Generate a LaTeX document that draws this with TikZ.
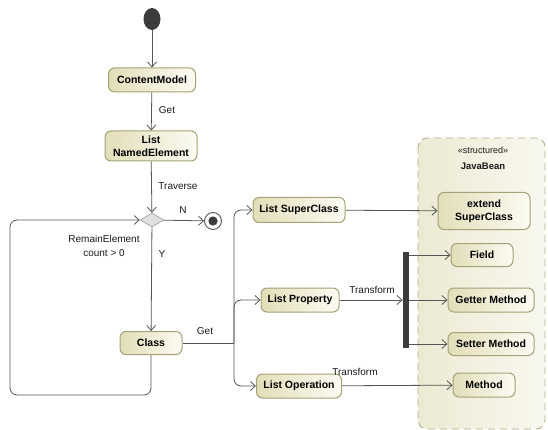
\documentclass[tikz,border=0pt]{standalone}
\usepackage{fontspec}
\setmainfont{Liberation Sans}
\usetikzlibrary{arrows.meta,shapes.geometric}

\definecolor{linegray}{HTML}{555555}
\definecolor{nodeedge}{HTML}{A6A176}
\definecolor{nodetan}{HTML}{E2DEB8}
\definecolor{nodelight}{HTML}{FCFBF3}
\definecolor{parttan}{HTML}{ECEAD3}
\definecolor{partlight}{HTML}{F9F8EF}
\definecolor{partedge}{HTML}{B2AE86}
\definecolor{darkfill}{HTML}{3C3C3C}

\tikzset{
  x=1pt, y=-1pt,
  action/.style={draw=nodeedge, line width=1pt, rounded corners=6pt,
    left color=nodetan, right color=nodelight, inner sep=0pt,
    align=center, font=\bfseries\fontsize{10.5}{13}\selectfont},
  flow/.style={draw=linegray, line width=0.8pt,
    -{Straight Barb[length=5pt,width=9pt]}},
  plainline/.style={draw=linegray, line width=0.8pt},
  lbl/.style={font=\fontsize{10}{13}\selectfont, text=black!90, inner sep=0pt, align=center},
}

\begin{document}
\begin{tikzpicture}
\useasboundingbox (0,0) rectangle (548,430);

% JavaBean partition
\draw[draw=partedge, dashed, dash pattern=on 7pt off 5pt, line width=0.9pt,
  rounded corners=9pt, left color=parttan, right color=partlight]
  (418,138) rectangle (545,429);
\node[lbl, font=\fontsize{9}{11}\selectfont] (stereo) at (483,150) {«structured»};
\node[lbl, font=\bfseries\fontsize{9.5}{12}\selectfont] (beanname) at (483,166) {JavaBean};

% start and control nodes
\node[ellipse, fill=darkfill, minimum width=17pt, minimum height=22pt, inner sep=0] (start) at (152,19) {};
\node[diamond, draw=gray!70, fill=gray!25, line width=0.7pt, inner sep=0pt,
  aspect=1.7, minimum width=24pt, minimum height=14pt] (dec) at (152,220) {};
\node[circle, draw=linegray, line width=0.9pt, fill=white, minimum size=17pt, inner sep=0] (final) at (213,221) {};
\fill[darkfill] (final.center) circle (4.6);
\node[fill=darkfill, minimum width=6.5pt, minimum height=96pt, inner sep=0] (bar) at (406,300) {};

% actions
\node[action, minimum width=87pt, minimum height=24pt] (cm) at (152,80) {ContentModel};
\node[action, minimum width=92pt, minimum height=30pt] (lne) at (151,146) {List\\NamedElement};
\node[action, minimum width=62pt, minimum height=23pt] (cls) at (151,343) {Class};
\node[action, minimum width=92pt, minimum height=25pt] (sup) at (299,210) {List SuperClass};
\node[action, minimum width=78pt, minimum height=24pt] (prop) at (300,300) {List Property};
\node[action, minimum width=85pt, minimum height=24pt] (op) at (299,386) {List Operation};

\node[action, minimum width=92pt, minimum height=37pt] (ext) at (484,211) {extend\\SuperClass};
\node[action, minimum width=62pt, minimum height=23pt] (field) at (482,255) {Field};
\node[action, minimum width=86pt, minimum height=24pt] (getter) at (491,300) {Getter Method};
\node[action, minimum width=86pt, minimum height=23pt] (setter) at (491,344) {Setter Method};
\node[action, minimum width=62pt, minimum height=24pt] (meth) at (484,385) {Method};

% helper points
\coordinate (loopcorner) at (10,395);
\coordinate (forkpt) at (234,343);

% connectors
\draw[flow] (start) -- (cm);
\draw[flow] (cm) -- (lne);
\draw[flow] (lne) -- (dec);
\draw[flow] (dec) -- (final);
\draw[flow] (dec) -- (cls);
\draw[flow, rounded corners=7pt] (cls.south) |- (loopcorner) |- (dec.west);

\draw[plainline] (cls.east) -- (forkpt);
\draw[flow, rounded corners=7pt] (forkpt) |- (sup.west);
\draw[flow, rounded corners=7pt] (forkpt) |- (prop.west);
\draw[flow, rounded corners=7pt] (forkpt) |- (op.west);

\draw[flow] (sup) -- (ext);
\draw[flow] (prop) -- (bar);
\draw[flow] (bar.east |- field) -- (field);
\draw[flow] (bar.east |- getter) -- (getter);
\draw[flow] (bar.east |- setter) -- (setter);
\draw[flow] (op) -- (meth);

% labels
\node[lbl] (lget1) at (167,110) {Get};
\node[lbl] (ltrav) at (178,186) {Traverse};
\node[lbl] (lN) at (183,210) {N};
\node[lbl] (lY) at (162,254) {Y};
\node[lbl, font=\fontsize{10}{14}\selectfont] (lguard) at (104,246) {RemainElement\\count > 0};
\node[lbl] (lget2) at (205,331) {Get};
\node[lbl] (ltr1) at (372,290) {Transform};
\node[lbl] (ltr2) at (355,372) {Transform};
\end{tikzpicture}
\end{document}
